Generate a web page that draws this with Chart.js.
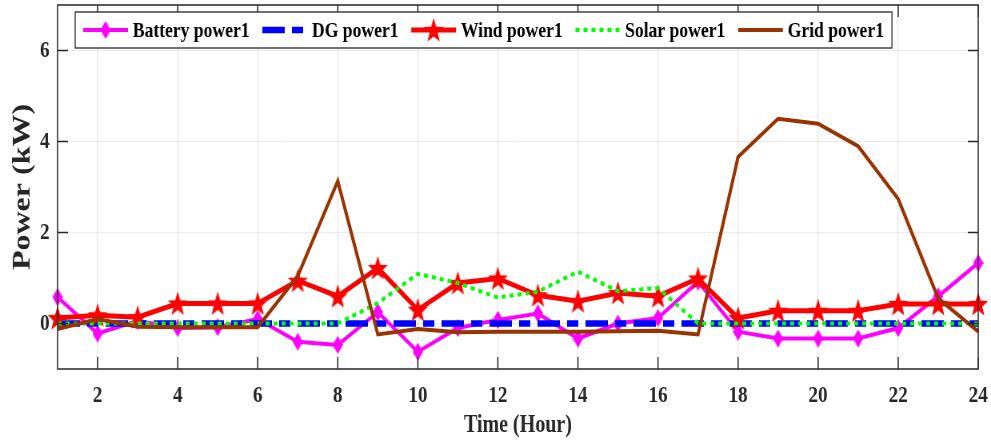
<!DOCTYPE html>
<html>
<head>
<meta charset="utf-8">
<script src="https://cdn.jsdelivr.net/npm/chart.js@4"></script>
<style>
  html, body { margin: 0; padding: 0; background: #fff; overflow: hidden; }
</style>
</head>
<body>
<!-- the figure is squeezed horizontally, like the original export -->
<canvas id="myChart" width="1239" height="446" style="display:block;width:991px;height:446px"></canvas>
<script>
const hours = [1, 2, 3, 4, 5, 6, 7, 8, 9, 10, 11, 12, 13, 14, 15, 16, 17, 18, 19, 20, 21, 22, 23, 24];
const batteryPower = [0.58, -0.22, 0.06, -0.1, -0.08, 0.1, -0.4, -0.47, 0.25, -0.62, -0.1, 0.08, 0.22, -0.33, 0.0, 0.12, 0.92, -0.18, -0.33, -0.33, -0.33, -0.1, 0.6, 1.33];
const dgPower = [0, 0, 0, 0, 0, 0, 0, 0, 0, 0, 0, 0, 0, 0, 0, 0, 0, 0, 0, 0, 0, 0, 0, 0];
const windPower = [0.12, 0.18, 0.14, 0.44, 0.44, 0.44, 0.94, 0.6, 1.22, 0.3, 0.89, 0.99, 0.62, 0.49, 0.67, 0.6, 0.99, 0.12, 0.28, 0.28, 0.28, 0.43, 0.43, 0.43];
const solarPower = [0, 0, 0, 0, 0, 0, 0, 0, 0.45, 1.09, 0.89, 0.57, 0.7, 1.14, 0.71, 0.78, 0, 0, 0, 0, 0, 0, 0, 0];
const gridPower = [-0.12, 0.1, -0.07, -0.08, -0.08, -0.08, 1.04, 3.13, -0.24, -0.12, -0.19, -0.18, -0.18, -0.18, -0.17, -0.16, -0.24, 3.66, 4.5, 4.39, 3.9, 2.74, 0.55, -0.18];
const xTicks = [2, 4, 6, 8, 10, 12, 14, 16, 18, 20, 22, 24];
const yTicks = [0, 2, 4, 6];

const FONT = '"Liberation Serif", "Times New Roman", serif';
const AXIS = '#262626';

function pts(values) {
    return hours.map((h, i) => ({ x: h, y: values[i] }));
}

// filled markers (MATLAB style diamond and pentagram)
function diamondMarker(color) {
    const c = document.createElement('canvas');
    c.width = 13; c.height = 18;
    const g = c.getContext('2d');
    g.fillStyle = color;
    g.beginPath();
    g.moveTo(6.5, 0); g.lineTo(13, 9); g.lineTo(6.5, 18); g.lineTo(0, 9);
    g.closePath(); g.fill();
    return c;
}
function starMarker(color) {
    const c = document.createElement('canvas');
    c.width = 28; c.height = 28;
    const g = c.getContext('2d');
    g.fillStyle = color;
    g.beginPath();
    for (let i = 0; i < 10; i++) {
        const r = i % 2 === 0 ? 13 : 5.4;
        const a = -Math.PI / 2 + i * Math.PI / 5;
        const px = 14 + r * Math.cos(a), py = 15 + r * Math.sin(a);
        if (i === 0) g.moveTo(px, py); else g.lineTo(px, py);
    }
    g.closePath(); g.fill();
    return c;
}
const diamond = diamondMarker('#ff00ff');
const star = starMarker('#ff0000');

// frame: box + inward ticks on all four sides
const framePlugin = {
    id: 'frame',
    afterDatasetsDraw(chart) {
        const { ctx, chartArea: a, scales } = chart;
        ctx.save();
        ctx.strokeStyle = AXIS;
        ctx.lineWidth = 1.5;
        ctx.strokeRect(a.left, a.top, a.right - a.left, a.bottom - a.top);
        ctx.beginPath();
        xTicks.forEach(v => {
            const px = scales.x.getPixelForValue(v);
            ctx.moveTo(px, a.bottom); ctx.lineTo(px, a.bottom - 12);
            ctx.moveTo(px, a.top); ctx.lineTo(px, a.top + 12);
        });
        yTicks.forEach(v => {
            const py = scales.y.getPixelForValue(v);
            ctx.moveTo(a.left, py); ctx.lineTo(a.left + 13, py);
            ctx.moveTo(a.right, py); ctx.lineTo(a.right - 13, py);
        });
        ctx.stroke();
        ctx.restore();
    }
};

// legend box inside the plot, at the top
const legendPlugin = {
    id: 'boxLegend',
    afterDraw(chart) {
        const ctx = chart.ctx;
        const sets = chart.data.datasets;
        ctx.save();
        ctx.font = 'bold 22px ' + FONT;
        const sample = 56, gapText = 6, gapItem = 16, padL = 10, padR = 10;
        let total = padL + padR;
        sets.forEach((ds, i) => {
            total += sample + gapText + ctx.measureText(ds.label).width;
            if (i < sets.length - 1) total += gapItem;
        });
        const left = 94, top = 12, h = 36, cy = top + h / 2;
        ctx.fillStyle = '#fff';
        ctx.fillRect(left, top, total, h);
        ctx.strokeStyle = AXIS;
        ctx.lineWidth = 1.3;
        ctx.strokeRect(left, top, total, h);
        let x = left + padL;
        sets.forEach(ds => {
            ctx.save();
            ctx.strokeStyle = ds.borderColor;
            ctx.lineWidth = ds.borderWidth;
            ctx.setLineDash(ds.borderDash || []);
            ctx.beginPath();
            ctx.moveTo(x, cy); ctx.lineTo(x + sample, cy);
            ctx.stroke();
            ctx.restore();
            if (ds.pointRadius > 0 && typeof ds.pointStyle === 'object') {
                const m = ds.pointStyle;
                ctx.drawImage(m, x + sample / 2 - m.width / 2, cy - m.height / 2);
            }
            x += sample + gapText;
            ctx.fillStyle = '#000';
            ctx.textAlign = 'left';
            ctx.textBaseline = 'middle';
            ctx.fillText(ds.label, x, cy + 1);
            x += ctx.measureText(ds.label).width + gapItem;
        });
        ctx.restore();
    }
};

document.addEventListener("DOMContentLoaded", function() {
    const ctx = document.getElementById('myChart').getContext('2d');
    const myChart = new Chart(ctx, {
        type: 'line',
        data: {
            datasets: [
                {
                    label: 'Battery power1',
                    data: pts(batteryPower),
                    borderColor: '#ff00ff',
                    borderWidth: 4,
                    pointStyle: diamond,
                    pointRadius: 7,
                    order: 5
                },
                {
                    label: 'DG power1',
                    data: pts(dgPower),
                    borderColor: '#0000ff',
                    borderWidth: 6.5,
                    borderDash: [28, 9, 14, 9],
                    pointRadius: 0,
                    order: 4
                },
                {
                    label: 'Wind power1',
                    data: pts(windPower),
                    borderColor: '#ff0000',
                    borderWidth: 5,
                    pointStyle: star,
                    pointRadius: 10,
                    order: 3
                },
                {
                    label: 'Solar power1',
                    data: pts(solarPower),
                    borderColor: '#00ff00',
                    borderWidth: 4,
                    borderDash: [5, 5],
                    pointRadius: 0,
                    order: 2
                },
                {
                    label: 'Grid power1',
                    data: pts(gridPower),
                    borderColor: '#993300',
                    borderWidth: 4,
                    pointRadius: 0,
                    order: 1
                }
            ]
        },
        options: {
            responsive: false,
            animation: false,
            devicePixelRatio: 1,
            // markers overflow the frame like in the original, so no auto padding
            layout: { autoPadding: false, padding: { top: 5, right: 16, left: 0, bottom: 0 } },
            datasets: { line: { tension: 0, fill: false, clip: false } },
            plugins: {
                legend: { display: false },
                tooltip: { enabled: false }
            },
            scales: {
                x: {
                    type: 'linear',
                    min: 1,
                    max: 24,
                    afterBuildTicks: axis => { axis.ticks = xTicks.map(v => ({ value: v })); },
                    afterFit: s => { s.height = 77; },
                    border: { display: false },
                    // invisible outer tick marks give the label gap without padding the plot
                    grid: { color: 'rgba(0,0,0,0.12)', lineWidth: 1.2, drawTicks: true, tickLength: 12, tickColor: 'rgba(0,0,0,0)' },
                    ticks: {
                        autoSkip: false,
                        maxRotation: 0,
                        padding: 0,
                        color: AXIS,
                        font: { family: FONT, size: 24, weight: 'bold' }
                    },
                    title: {
                        display: true,
                        text: 'Time (Hour)',
                        color: AXIS,
                        padding: { top: 0, bottom: 5 },
                        font: { family: FONT, size: 25, weight: 'bold' }
                    }
                },
                y: {
                    min: -1,
                    max: 7,
                    afterBuildTicks: axis => { axis.ticks = yTicks.map(v => ({ value: v })); },
                    afterFit: s => { s.width = 72; },
                    border: { display: false },
                    grid: { color: 'rgba(0,0,0,0.08)', lineWidth: 1, drawTicks: true, tickLength: 10, tickColor: 'rgba(0,0,0,0)' },
                    ticks: {
                        padding: 0,
                        color: AXIS,
                        // small line height keeps the label overflow from pushing the plot down
                        font: { family: FONT, size: 24, weight: 'bold', lineHeight: 0.4 }
                    },
                    title: {
                        display: true,
                        text: 'Power (kW)',
                        color: AXIS,
                        padding: { top: 10, bottom: 0 },
                        font: { family: FONT, size: 32, weight: 'bold' }
                    }
                }
            }
        },
        plugins: [framePlugin, legendPlugin]
    });
});
</script>
</body>
</html>
